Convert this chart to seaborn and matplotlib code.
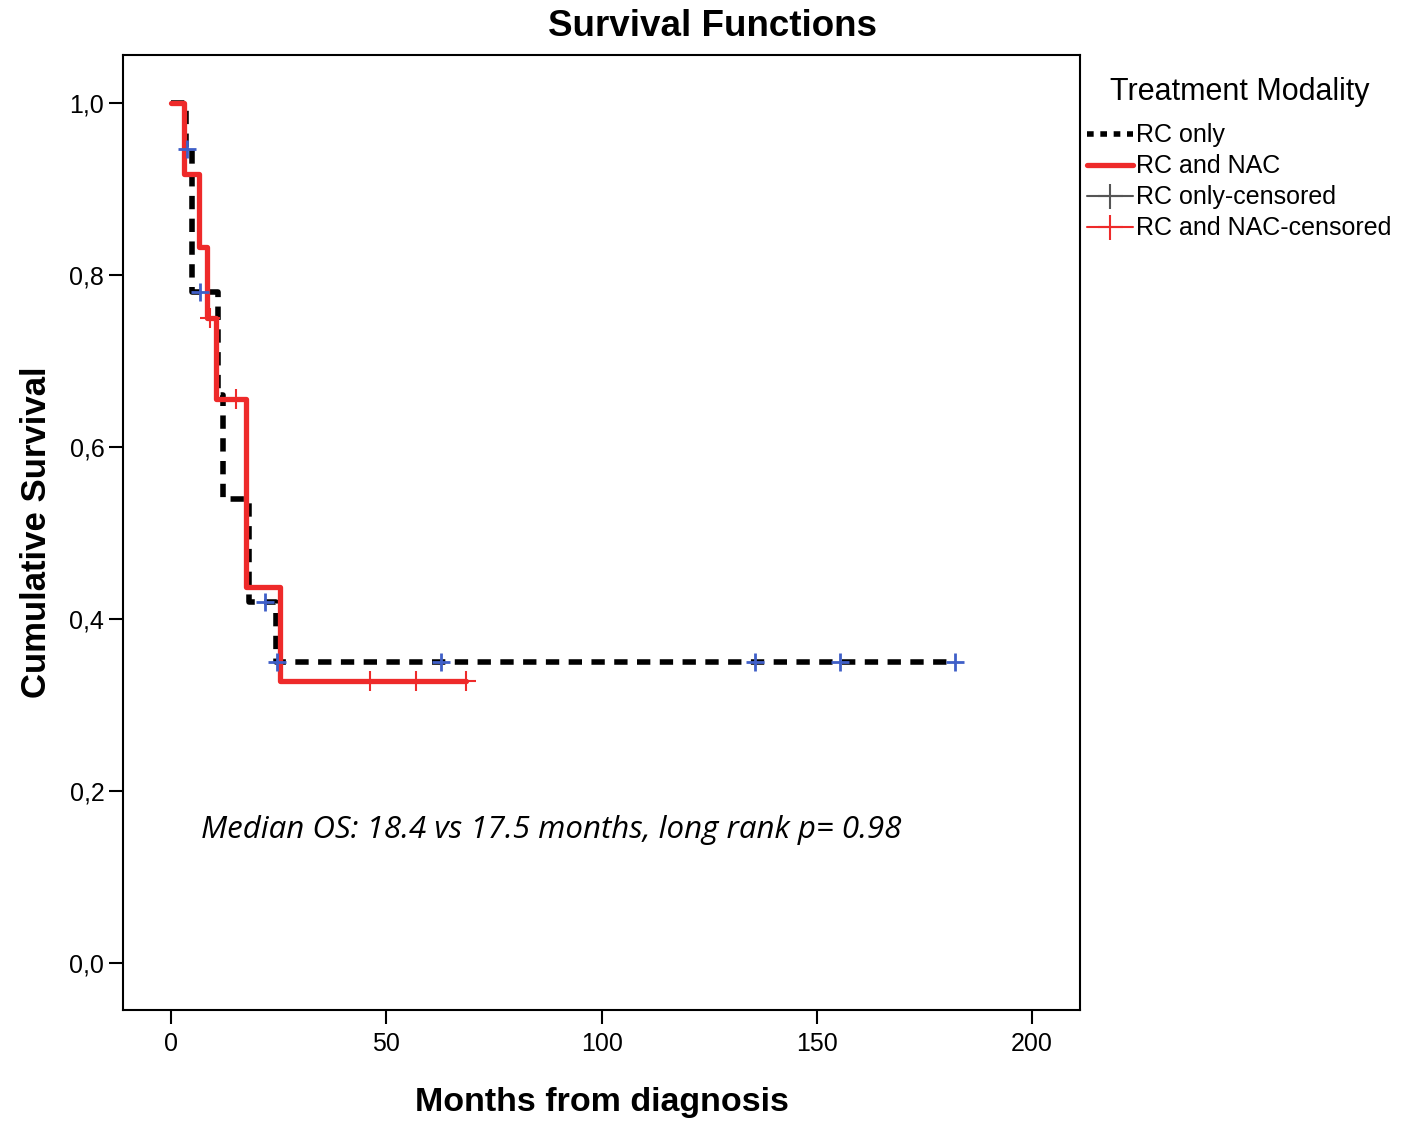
import numpy as np
import pandas as pd
import seaborn as sns
import matplotlib.pyplot as plt
from matplotlib.lines import Line2D

# Kaplan-Meier steps (time in months, cumulative survival)
rc_only_time = [0, 3.5, 4.8, 10.8, 12.0, 18.2, 24.3]
rc_only_surv = [1.0, 0.947, 0.780, 0.660, 0.540, 0.420, 0.350]
rc_only_end = 182.1

rc_nac_time = [0, 3.1, 6.4, 8.3, 10.5, 17.4, 25.3]
rc_nac_surv = [1.0, 0.917, 0.833, 0.750, 0.656, 0.4375, 0.328]
rc_nac_end = 68.5

# Censored observations
rc_only_cens_time = [3.8, 6.7, 21.8, 24.6, 62.7, 135.7, 155.4, 182.1]
rc_only_cens_surv = [0.947, 0.780, 0.420, 0.350, 0.350, 0.350, 0.350, 0.350]

rc_nac_cens_time = [9.0, 15.1, 46.2, 56.9, 68.5]
rc_nac_cens_surv = [0.750, 0.656, 0.328, 0.328, 0.328]

y_ticks = [0.0, 0.2, 0.4, 0.6, 0.8, 1.0]
y_tick_labels = ["0,0", "0,2", "0,4", "0,6", "0,8", "1,0"]
x_ticks = [0, 50, 100, 150, 200]

sns.set_style("white")
plt.rcParams["font.family"] = ["Liberation Sans", "DejaVu Sans"]
plt.rcParams["text.color"] = "black"
plt.rcParams["axes.labelcolor"] = "black"

# Build step tables, extended to the last follow-up time
df_only = pd.DataFrame({"time": rc_only_time + [rc_only_end],
                        "surv": rc_only_surv + [rc_only_surv[-1]]})
df_nac = pd.DataFrame({"time": rc_nac_time + [rc_nac_end],
                       "surv": rc_nac_surv + [rc_nac_surv[-1]]})
df_only_c = pd.DataFrame({"time": rc_only_cens_time, "surv": rc_only_cens_surv})
df_nac_c = pd.DataFrame({"time": rc_nac_cens_time, "surv": rc_nac_cens_surv})

fig = plt.figure(figsize=(14.11, 11.25), dpi=100)
ax = fig.add_axes([0.0872, 0.1022, 0.6782, 0.8489])

sns.lineplot(data=df_only, x="time", y="surv", ax=ax, drawstyle="steps-post",
             color="black", linewidth=4, linestyle=(0, (2.4, 1.7)),
             estimator=None, sort=False)
sns.lineplot(data=df_nac, x="time", y="surv", ax=ax, drawstyle="steps-post",
             color="#ee2a2a", linewidth=3.8, estimator=None, sort=False)

sns.scatterplot(data=df_only_c, x="time", y="surv", ax=ax, marker="+",
                s=160, color="#3f5fc8", linewidth=2, zorder=5)
sns.scatterplot(data=df_nac_c, x="time", y="surv", ax=ax, marker="+",
                s=220, color="#ee2a2a", linewidth=1.5, zorder=5)

ax.set_xlim(-11.15, 211.1)
ax.set_ylim(-0.0547, 1.0558)
ax.set_xticks(x_ticks)
ax.set_yticks(y_ticks)
ax.set_yticklabels(y_tick_labels)
ax.tick_params(axis="both", direction="out", length=10, width=1.5,
               labelsize=18, left=True, bottom=True, colors="black")
ax.tick_params(axis="x", pad=6)

for spine in ax.spines.values():
    spine.set_color("black")
    spine.set_linewidth(1.5)

fig.text(0.505, 0.976, "Survival Functions", fontsize=26.5, fontweight="bold",
         ha="center", va="center")
ax.set_xlabel("Months from diagnosis", fontsize=24.5, fontweight="bold", labelpad=22)
ax.set_ylabel("Cumulative Survival", fontsize=25, fontweight="bold", labelpad=12)

ax.text(7, 0.155, "Median OS: 18.4 vs 17.5 months, long rank p= 0.98",
        fontsize=22.5, style="italic", family=["Open Sans", "DejaVu Sans"],
        ha="left", va="center")

handles = [
    Line2D([], [], color="black", linewidth=4, linestyle=(0, (1.2, 1.2))),
    Line2D([], [], color="#ee2a2a", linewidth=3.8),
    Line2D([], [], color="#555555", linewidth=1.5, marker="+", markersize=18,
           markeredgewidth=1.5),
    Line2D([], [], color="#ee2a2a", linewidth=1.5, marker="+", markersize=18,
           markeredgewidth=1.5),
]
labels = ["RC only", "RC and NAC", "RC only-censored", "RC and NAC-censored"]
leg = ax.legend(handles, labels, title="Treatment Modality", loc="upper left",
                bbox_to_anchor=(0.997, 0.9877), frameon=False, fontsize=18,
                title_fontsize=22, handlelength=1.85, handletextpad=0.1,
                labelspacing=0.28, borderaxespad=0)
leg._legend_box.align = "left"
leg._legend_box.sep = 12
leg.get_title().set_position((23, 0))

fig.savefig("out.png", dpi=100, facecolor="white")
